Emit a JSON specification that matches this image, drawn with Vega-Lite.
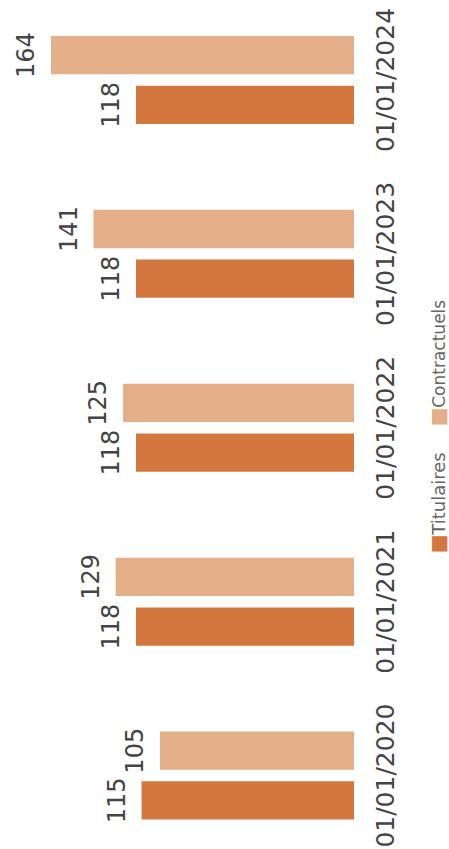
{
  "$schema": "https://vega.github.io/schema/vega-lite/v6.json",
  "width": 351,
  "height": 849,
  "autosize": {"type": "none"},
  "padding": {"left": 3, "top": 0, "right": 95, "bottom": 0},
  "background": "white",
  "config": {"view": {"stroke": null}, "font": "DejaVu Sans"},
  "datasets": {
    "effectifs": [
      {"date": "01/01/2020", "series": "Titulaires", "value": 115},
      {"date": "01/01/2020", "series": "Contractuels", "value": 105},
      {"date": "01/01/2021", "series": "Titulaires", "value": 118},
      {"date": "01/01/2021", "series": "Contractuels", "value": 129},
      {"date": "01/01/2022", "series": "Titulaires", "value": 118},
      {"date": "01/01/2022", "series": "Contractuels", "value": 125},
      {"date": "01/01/2023", "series": "Titulaires", "value": 118},
      {"date": "01/01/2023", "series": "Contractuels", "value": 141},
      {"date": "01/01/2024", "series": "Titulaires", "value": 118},
      {"date": "01/01/2024", "series": "Contractuels", "value": 164}
    ],
    "legende": [
      {"series": "Titulaires"},
      {"series": "Contractuels"}
    ]
  },
  "layer": [
    {
      "data": {"name": "effectifs"},
      "mark": {"type": "bar"},
      "encoding": {
        "y": {
          "field": "date",
          "type": "nominal",
          "sort": ["01/01/2024", "01/01/2023", "01/01/2022", "01/01/2021", "01/01/2020"],
          "scale": {"paddingInner": 0.494, "paddingOuter": 0.188, "align": 0.55},
          "axis": {
            "orient": "right",
            "title": null,
            "domain": false,
            "ticks": false,
            "grid": false,
            "labelAngle": 270,
            "labelAlign": "center",
            "labelBaseline": "alphabetic",
            "labelPadding": 39,
            "labelFontSize": 25,
            "labelColor": "#444444",
            "labelFont": "DejaVu Sans",
            "labelOverlap": false
          }
        },
        "yOffset": {
          "field": "series",
          "type": "nominal",
          "sort": ["Contractuels", "Titulaires"],
          "scale": {"paddingInner": 0.23, "paddingOuter": 0}
        },
        "x": {
          "field": "value",
          "type": "quantitative",
          "scale": {"domain": [0, 190], "reverse": true, "nice": false},
          "axis": null
        },
        "color": {
          "field": "series",
          "type": "nominal",
          "scale": {"domain": ["Titulaires", "Contractuels"], "range": ["#D4773F", "#E4AE89"]},
          "legend": null
        }
      }
    },
    {
      "data": {"name": "effectifs"},
      "mark": {
        "type": "text",
        "angle": 270,
        "align": "center",
        "baseline": "alphabetic",
        "dy": -17,
        "fontSize": 24,
        "font": "DejaVu Sans",
        "fill": "#444444"
      },
      "encoding": {
        "y": {
          "field": "date",
          "type": "nominal",
          "sort": ["01/01/2024", "01/01/2023", "01/01/2022", "01/01/2021", "01/01/2020"]
        },
        "yOffset": {"field": "series", "type": "nominal", "sort": ["Contractuels", "Titulaires"]},
        "x": {"field": "value", "type": "quantitative"},
        "text": {"field": "value", "type": "quantitative"}
      }
    },
    {
      "data": {"name": "legende"},
      "transform": [{"filter": "datum.series === 'Contractuels'"}],
      "mark": {"type": "text", "angle": 270, "align": "left", "baseline": "alphabetic", "dx": 20, "fontSize": 17, "font": "DejaVu Sans", "fill": "#666666"},
      "encoding": {
        "y": {"datum": "01/01/2022", "type": "nominal"},
        "x": {"datum": -49.3, "type": "quantitative"},
        "text": {"field": "series", "type": "nominal"}
      }
    },
    {
      "data": {"name": "legende"},
      "transform": [{"filter": "datum.series === 'Titulaires'"}],
      "mark": {"type": "text", "angle": 270, "align": "left", "baseline": "alphabetic", "dx": -107, "fontSize": 18, "font": "DejaVu Sans", "fill": "#666666"},
      "encoding": {
        "y": {"datum": "01/01/2022", "type": "nominal"},
        "x": {"datum": -49.3, "type": "quantitative"},
        "text": {"field": "series", "type": "nominal"}
      }
    },
    {
      "data": {"name": "legende"},
      "transform": [{"filter": "datum.series === 'Contractuels'"}],
      "mark": {"type": "text", "angle": 270, "align": "center", "baseline": "alphabetic", "dx": 11, "dy": 0, "fontSize": 20, "font": "DejaVu Sans"},
      "encoding": {
        "y": {"datum": "01/01/2022", "type": "nominal"},
        "x": {"datum": -49.3, "type": "quantitative"},
        "text": {"value": "■"},
        "color": {"field": "series", "type": "nominal", "legend": null}
      }
    },
    {
      "data": {"name": "legende"},
      "transform": [{"filter": "datum.series === 'Titulaires'"}],
      "mark": {"type": "text", "angle": 270, "align": "center", "baseline": "alphabetic", "dx": -116, "dy": 0, "fontSize": 20, "font": "DejaVu Sans"},
      "encoding": {
        "y": {"datum": "01/01/2022", "type": "nominal"},
        "x": {"datum": -49.3, "type": "quantitative"},
        "text": {"value": "■"},
        "color": {"field": "series", "type": "nominal", "legend": null}
      }
    }
  ]
}
